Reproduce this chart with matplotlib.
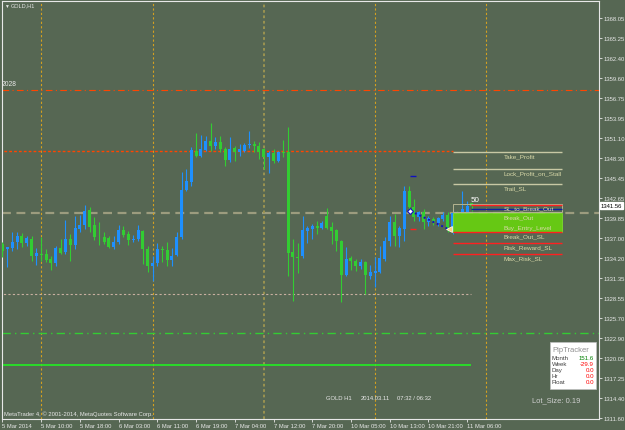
import matplotlib
matplotlib.use('Agg')
import matplotlib.pyplot as plt
from matplotlib.patches import Rectangle
import matplotlib.transforms as mtransforms

plt.rcParams['font.family'] = ['Liberation Sans', 'DejaVu Sans']

# GOLD H1 candles, 5 Mar 02:00 .. 11 Mar 07:00
opens = [1336.15, 1335.50, 1335.59, 1336.43, 1337.28, 1336.29, 1336.86, 1334.46, 1334.81, 1334.74,
         1334.03, 1333.47, 1335.59, 1335.02, 1336.86, 1336.01, 1338.27, 1338.83, 1340.95, 1338.83,
         1337.14, 1337.14, 1336.99, 1335.73, 1336.43, 1338.13, 1337.56, 1336.71, 1336.86, 1337.98,
         1335.44, 1333.05, 1333.47, 1335.44, 1335.30, 1333.89, 1334.60, 1337.14, 1343.77, 1344.90,
         1349.27, 1348.57, 1349.41, 1350.68, 1349.98, 1350.54, 1349.56, 1348.00, 1349.70, 1349.13,
         1349.27, 1350.12, 1350.26, 1349.98, 1349.56, 1348.43, 1348.99, 1347.86, 1349.13, 1349.13,
         1335.02, 1334.32, 1334.46, 1337.98, 1338.27, 1338.69, 1338.41, 1340.10, 1338.55, 1338.13,
         1336.57, 1331.78, 1334.17, 1333.75, 1333.05, 1333.61, 1331.64, 1332.06, 1332.20, 1334.03,
         1336.57, 1339.25, 1337.28, 1338.27, 1343.63, 1341.37, 1339.96, 1340.66, 1339.25, 1339.68,
         1339.11, 1339.68, 1340.24, 1337.84, 1340.38, 1340.38, 1340.24, 1341.90]
closes = [1335.16, 1335.73, 1336.43, 1337.28, 1336.29, 1336.99, 1334.46, 1334.88, 1334.67, 1333.89,
          1333.47, 1335.59, 1334.88, 1336.86, 1336.01, 1338.41, 1338.83, 1340.81, 1338.55, 1337.14,
          1337.10, 1336.43, 1335.73, 1336.43, 1338.13, 1337.42, 1336.71, 1336.86, 1338.13, 1335.44,
          1333.05, 1333.47, 1335.44, 1335.30, 1333.89, 1334.46, 1337.14, 1343.77, 1345.04, 1349.41,
          1348.57, 1349.56, 1350.68, 1349.98, 1350.54, 1349.56, 1348.00, 1349.56, 1349.13, 1349.56,
          1350.12, 1350.26, 1349.98, 1349.13, 1348.43, 1348.99, 1347.86, 1349.13, 1349.00, 1334.88,
          1334.32, 1334.20, 1338.13, 1338.41, 1338.69, 1338.41, 1339.11, 1338.41, 1337.98, 1336.57,
          1331.78, 1334.03, 1333.75, 1333.05, 1333.61, 1331.78, 1332.20, 1332.34, 1334.17, 1336.57,
          1339.25, 1337.28, 1338.41, 1343.63, 1341.37, 1339.96, 1340.66, 1339.25, 1339.82, 1339.25,
          1339.82, 1340.24, 1338.27, 1340.52, 1339.68, 1341.09, 1341.51, 1341.56]
highs = [1336.43, 1335.80, 1337.84, 1337.84, 1337.70, 1337.28, 1337.28, 1335.59, 1337.14, 1335.44,
         1334.46, 1335.87, 1336.86, 1339.54, 1337.56, 1340.10, 1340.24, 1341.65, 1341.37, 1339.96,
         1339.25, 1337.84, 1337.28, 1337.28, 1338.83, 1338.69, 1337.98, 1337.42, 1338.83, 1338.13,
         1335.87, 1334.46, 1336.29, 1335.87, 1336.43, 1335.59, 1337.84, 1346.31, 1346.73, 1349.84,
         1351.81, 1351.53, 1351.39, 1353.22, 1351.25, 1351.39, 1349.84, 1351.25, 1349.98, 1350.26,
         1350.40, 1352.10, 1350.68, 1350.54, 1349.70, 1349.27, 1349.56, 1349.27, 1350.82, 1352.66,
         1336.86, 1336.29, 1340.10, 1338.69, 1338.97, 1339.39, 1339.39, 1341.23, 1339.25, 1338.27,
         1336.71, 1335.73, 1334.46, 1334.03, 1334.03, 1333.75, 1333.19, 1334.32, 1335.87, 1337.14,
         1340.10, 1340.38, 1338.69, 1344.33, 1344.33, 1342.50, 1340.81, 1341.09, 1340.10, 1339.96,
         1339.96, 1340.66, 1340.66, 1340.81, 1340.81, 1343.63, 1342.22, 1342.00]
lows = [1334.32, 1332.90, 1335.16, 1335.44, 1335.73, 1335.87, 1333.75, 1333.19, 1333.75, 1333.61,
        1332.48, 1333.05, 1334.74, 1334.74, 1333.75, 1335.44, 1337.84, 1338.27, 1337.84, 1336.71,
        1336.01, 1336.15, 1335.59, 1335.44, 1336.15, 1337.14, 1336.01, 1336.43, 1336.57, 1333.33,
        1332.20, 1330.93, 1333.05, 1333.61, 1333.05, 1333.05, 1334.46, 1336.86, 1343.63, 1344.33,
        1348.43, 1348.43, 1349.27, 1349.27, 1349.56, 1349.13, 1347.16, 1347.72, 1347.86, 1348.57,
        1349.13, 1349.70, 1349.13, 1348.14, 1346.73, 1346.17, 1347.58, 1347.72, 1348.43, 1331.64,
        1328.11, 1332.06, 1334.18, 1336.29, 1336.86, 1337.56, 1338.27, 1338.27, 1336.15, 1335.16,
        1327.97, 1331.64, 1332.48, 1332.34, 1332.62, 1329.10, 1331.21, 1330.08, 1332.06, 1333.75,
        1335.87, 1335.87, 1335.73, 1336.57, 1340.66, 1339.39, 1339.39, 1338.27, 1338.69, 1338.83,
        1338.69, 1339.39, 1337.84, 1337.56, 1339.39, 1340.10, 1340.10, 1340.80]

time_labels = ['5 Mar 2014', '5 Mar 10:00', '5 Mar 18:00', '6 Mar 03:00', '6 Mar 11:00',
               '6 Mar 19:00', '7 Mar 04:00', '7 Mar 12:00', '7 Mar 20:00', '10 Mar 05:00',
               '10 Mar 13:00', '10 Mar 21:00', '11 Mar 06:00']
price_ticks = [1368.05, 1365.25, 1362.40, 1359.60, 1356.75, 1353.95, 1351.10, 1348.30, 1345.45,
               1342.65, 1339.85, 1337.00, 1334.20, 1331.35, 1328.55, 1325.70, 1322.90, 1320.05,
               1317.25, 1314.40, 1311.60]
day_seps = [8, 31, 54, 77, 100]

# EA levels on the right
level_names = ['Take_Profit', 'Lock_Profit_on_Stall', 'Trail_SL', 'SL_to_Break_Out', 'Break_Out',
               'Buy_Entry_Level', 'Break_Out_SL', 'Risk_Reward_SL', 'Max_Risk_SL']
level_prices = [1349.14, 1346.73, 1344.62, 1341.79, 1340.52, 1339.11, 1337.84, 1336.29, 1334.79]
bid = 1341.56

bg = '#566753'
fg = '#E8E8E8'
W, H = 625, 431

fig = plt.figure(figsize=(6.25, 4.31), dpi=100)
fig.patch.set_facecolor(bg)
ax = fig.add_axes([2 / W, 11 / H, 597 / W, 418 / H])
ax.set_facecolor(bg)
ax.set_xlim(-0.1, 123.25)
ax.set_ylim(1311.46, 1370.45)

# grid-ish lines
ax.axhline(1357.89, color='#FF4500', lw=0.8, ls=(0, (6, 3, 1, 3)))
ax.hlines(1349.28, -1, 93, color='#FF4500', lw=1.0, ls=(0, (2, 1.5)))
ax.axhline(1340.52, color='#9C9C7E', lw=1.6, ls=(0, (4, 2.5)), zorder=1)
ax.hlines(1329.10, -1, 96.8, color='#C8AFA0', lw=0.8, ls=(0, (2, 2)))
ax.axhline(1323.60, color='#33CC33', lw=1.0, ls=(0, (6, 3, 1, 3)))
ax.hlines(1319.08, -1, 96.8, color='#22EE22', lw=1.2)
for d in day_seps:
    if d == 54:
        ax.axvline(d, color='#A09650', lw=1.3, ls=(0, (1.5, 1.5)), zorder=1)
    else:
        ax.axvline(d, color='#D4A020', lw=0.8, ls=(0, (2, 2)), zorder=1)

# candles
for i in range(len(opens)):
    o, c, h, l = opens[i], closes[i], highs[i], lows[i]
    col = '#1E90FF' if c >= o else '#32CD32'
    ax.vlines(i, l, h, color=col, lw=0.8, zorder=3)
    ax.bar(i, max(abs(c - o), 0.1), bottom=min(o, c), width=0.62, color=col, lw=0, zorder=3)

# EA box and lines
x0, x1 = 93.0, 115.7
ax.add_patch(Rectangle((x0, 1337.84), x1 - x0, 1340.52 - 1337.84, facecolor='#66C814',
                       edgecolor='#7CDC2C', lw=0.6, zorder=4))
ax.add_patch(Rectangle((x0, 1340.62), x1 - x0, 1341.79 - 1340.62, facecolor='none',
                       edgecolor='#B4B490', lw=0.7, zorder=4))
for p in level_prices[:3]:
    ax.hlines(p, x0, x1, color='#C8C8A4', lw=1.0, zorder=4)
ax.hlines(1341.65, 96.7, x1, color='#FF2020', lw=1.0, zorder=5)
ax.hlines(1341.05, 96.7, x1, color='#1020A0', lw=1.0, zorder=5)
for p in level_prices[6:]:
    ax.hlines(p, x0, x1, color='#FF2020', lw=1.0, zorder=4)
for name, p in zip(level_names, level_prices):
    ax.text(103.5, p - 0.58, name, fontsize=4.6, color='#D8D8A8', va='center', ha='left', zorder=6)

# entry markers
ax.plot([84.3, 92.1], [1340.81, 1338.27], ls=(0, (1, 1.5)), color='#1010C0', lw=1.4, zorder=6)
ax.plot(84.3, 1340.81, marker='D', ms=3, mfc='white', mec='#1010C0', mew=0.8, zorder=7)
ax.plot(92.3, 1338.27, marker='<', ms=4, mfc='#FFD27A', mec='white', mew=0.5, zorder=7)
ax.hlines(1345.75, 84.3, 85.4, color='#1010C0', lw=1.0, zorder=6)
ax.hlines(1338.27, 84.3, 85.4, color='#FF2020', lw=1.0, zorder=6)
ax.text(96.7, 1342.4, '50', fontsize=5.8, color='white', ha='left', va='center', zorder=7)

# axes look
for s in ax.spines.values():
    s.set_color(fg)
    s.set_linewidth(0.8)
ax.yaxis.tick_right()
ax.set_yticks(price_ticks)
ax.set_yticklabels(['%.2f' % v for v in price_ticks])
ax.set_xticks(range(0, 8 * len(time_labels), 8))
ax.set_xticklabels(time_labels)
ax.tick_params(axis='both', colors=fg, labelsize=4.2, length=2, width=0.6, pad=1)
for t in ax.get_xticklabels():
    t.set_ha('left')

trans = mtransforms.blended_transform_factory(ax.transAxes, ax.transData)
ax.text(1.003, bid, '%.2f' % bid, transform=trans, fontsize=4.2, color='black', va='center',
        ha='left', bbox=dict(facecolor='white', edgecolor='white', pad=0.8), zorder=8, clip_on=False)


def px(x, y):
    return x / W, 1 - y / H


fig.text(*px(4, 6), '▼', fontsize=3.5, color=fg, va='center')
fig.text(*px(11, 6), 'GOLD,H1', fontsize=4, color=fg, va='center')
fig.text(*px(2, 85), '2028', fontsize=4.9, color=fg, va='center')
fig.text(*px(4, 414), 'MetaTrader 4, © 2001-2014, MetaQuotes Software Corp.', fontsize=4.2,
         color=fg, va='center')
fig.text(*px(326, 399), 'GOLD H1', fontsize=4.2, color=fg, va='center')
fig.text(*px(361, 399), '2014.03.11', fontsize=4.2, color=fg, va='center')
fig.text(*px(397, 399), '07:32 / 06:32', fontsize=4.2, color=fg, va='center')
fig.text(*px(532, 401), 'Lot_Size: 0.19', fontsize=5.4, color='#D0D0D0', va='center')

# PipTracker panel
fig.patches.append(Rectangle(px(550, 390), 46 / W, 47 / H, transform=fig.transFigure,
                             facecolor='white', edgecolor='#C0C0C0', lw=0.5, zorder=5))
fig.text(*px(552, 350), 'PipTracker', fontsize=5.5, color='#909090', va='center', zorder=6)
rows = [('Month', '151.6', '#008000'), ('Week', '-29.9', '#FF0000'), ('Day', '0.0', '#FF0000'),
        ('Hr', '0.0', '#FF0000'), ('Float', '0.0', '#FF0000')]
for k, (lab, val, col) in enumerate(rows):
    yy = 358 + 6.2 * k
    fig.text(*px(552, yy), lab, fontsize=4.4, color='#404040', va='center', zorder=6)
    fig.text(*px(594, yy), val, fontsize=4.4, color=col, va='center', ha='right', zorder=6)

fig.savefig('out.png', dpi=100, facecolor=bg)
